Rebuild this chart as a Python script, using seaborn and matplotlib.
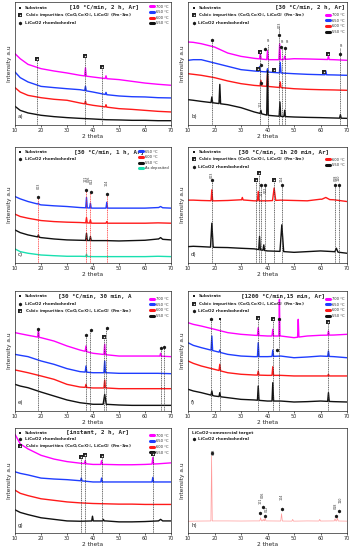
import numpy as np
import matplotlib
matplotlib.use("Agg")
import matplotlib.pyplot as plt
from matplotlib.lines import Line2D
import seaborn as sns

# shared 2-theta grid for the background of every trace
theta = [10, 12, 15, 20, 25, 30, 35, 40, 45, 50, 55, 60, 65, 70]

# a) 10 C/min, 2 h, Ar
a_700 = [58.0, 53.9, 49.3, 45.8, 43.9, 42.3, 40.4, 39.0, 37.7, 36.9, 35.5, 34.1, 33.1, 32.3]
a_700_pk = [(37.1, 46.5), (45.0, 40.0)]
a_650 = [43.1, 38.5, 35.0, 31.4, 30.4, 29.5, 28.7, 26.8, 24.7, 23.6, 23.0, 22.8, 22.2, 22.0]
a_650_pk = [(37.1, 31.5), (45.0, 26.5)]
a_600 = [30.4, 26.8, 24.1, 22.2, 20.9, 20.1, 17.9, 16.0, 14.6, 13.3, 12.7, 11.9, 11.1, 10.6]
a_600_pk = [(37.1, 19.5), (45.0, 16.5)]
a_550 = [15.2, 11.9, 9.8, 7.9, 6.8, 6.0, 5.4, 4.9, 4.3, 4.1, 3.8, 3.8, 3.5, 3.5]
a_550_pk = []
a_lines = [(18.5, 54), (37.1, 56), (43.3, 47)]
a_marks = [(18.5, 54, 'cub'), (37.1, 56, 'cub'), (43.3, 47, 'cub')]

# b) 30 C/min, 2 h, Ar
b_700 = [67.5, 67.2, 66.1, 63.4, 58.5, 55.8, 54.2, 53.1, 53.1, 53.9, 53.7, 53.4, 53.1, 52.6]
b_700_pk = [(37.3, 58.5), (40.0, 60.5), (44.6, 66.0), (46.5, 56.0), (63.0, 56.0)]
b_650 = [52.6, 53.1, 53.1, 50.4, 47.7, 45.0, 43.9, 43.1, 42.3, 41.7, 41.2, 40.9, 40.7, 40.4]
b_650_pk = [(37.0, 47.5), (40.0, 45.8), (44.8, 51.0), (62.0, 44.0)]
b_600 = [41.7, 41.2, 40.4, 38.5, 35.8, 33.6, 32.2, 31.4, 30.4, 29.5, 29.0, 28.7, 28.5, 28.2]
b_600_pk = [(37.5, 36.3), (40.0, 41.2), (44.8, 35.0)]
b_550 = [20.6, 20.1, 19.2, 17.9, 16.5, 14.1, 10.6, 7.9, 7.0, 6.5, 6.2, 6.0, 5.7, 5.4]
b_550_pk = [(19.0, 22.8), (22.0, 33.0), (37.5, 12.0), (40.0, 44.0), (44.7, 18.7), (46.5, 12.0), (67.5, 8.4)]
b_lines = [(19.0, 69), (37.3, 59), (40.0, 66), (44.5, 80), (45.3, 63), (46.6, 63), (67.5, 63)]
b_marks = [(19.0, 69.4, 'rho'), (22.0, 21.5, 'sub'), (37.3, 59.3, 'cub'), (39.2, 62.0, 'rho'),
           (44.5, 73.0, 'rho'), (45.0, 63.4, 'rho'), (46.6, 62.9, 'rho'), (63.0, 57.5, 'cub'),
           (67.5, 57.5, 'rho'), (36.5, 45.8, 'cub'), (37.6, 48.5, 'rho'), (42.5, 44.4, 'cub'),
           (61.5, 43.1, 'cub'), (37.5, 34.1, 'rho')]
b_tags = [(40.4, 66.5, 'Pt', 0), (45.7, 65.5, 'Pt', 0), (47.4, 65.5, 'Pt', 0), (67.9, 62.5, 'Pt', 0),
          (44.5, 79, '003', 90), (37.3, 15, '101', 90)]

# c) 30 C/min, 1 h, Ar
c_650 = [57.3, 55.3, 53.0, 50.1, 49.3, 48.7, 47.8, 47.3, 47.3, 47.3, 47.3, 47.3, 47.8, 47.3]
c_650_pk = [(19.0, 51.6), (37.5, 56.5), (39.0, 51.6), (45.3, 52.4), (66.0, 48.7, 0.8)]
c_600 = [42.1, 40.1, 38.6, 36.6, 35.7, 35.2, 34.9, 34.3, 34.3, 34.3, 34.3, 34.3, 34.6, 34.3]
c_600_pk = [(37.5, 39.2), (39.0, 37.2), (45.3, 35.7)]
c_550 = [28.5, 26.2, 24.2, 21.9, 20.7, 19.9, 19.6, 19.3, 19.3, 19.0, 19.3, 19.6, 20.7, 19.9]
c_550_pk = [(19.0, 24.2), (37.5, 25.6), (39.0, 22.8), (66.0, 21.9, 0.8)]
c_dep = [12.1, 9.8, 8.4, 6.9, 6.3, 5.8, 5.8, 5.5, 5.5, 5.5, 5.5, 5.5, 5.8, 5.5]
c_dep_pk = [(37.5, 7.5)]
c_lines = [(19.0, 56.5), (37.3, 63.0), (39.0, 61.0), (45.3, 59.4)]
c_marks = [(19.0, 56.5, 'rho'), (37.3, 63.0, 'rho'), (39.2, 61.0, 'rho'), (45.3, 59.4, 'rho')]
c_tags = [(19.0, 64, '003', 90), (37.3, 70, '101', 90), (38.4, 70, '006', 90),
          (39.6, 68, '012', 90), (45.3, 66, '104', 90)]

# d) 30 C/min, 1h 20 min, Ar
d_600 = [54.2, 54.2, 53.9, 53.6, 53.9, 54.5, 53.6, 53.6, 54.2, 53.9, 53.6, 55.0, 54.5, 53.0]
d_600_pk = [(19.0, 63.1), (30.5, 56.5), (36.5, 61.7), (42.5, 64.6, 0.6), (62.0, 56.5, 1.5)]
d_550 = [14.1, 14.4, 14.1, 13.5, 13.3, 12.7, 12.2, 10.4, 10.0, 9.2, 9.8, 10.4, 9.8, 8.4]
d_550_pk = [(19.0, 34.3, 0.5), (37.0, 22.8), (38.6, 15.6), (45.4, 32.9, 0.7), (66.0, 12.7, 0.6)]
d_lines = [(19.0, 71.8), (35.5, 71.8), (36.8, 77.5), (37.6, 66.9), (38.9, 67.4), (42.5, 71.8),
           (45.5, 66.9), (65.6, 67.4), (66.8, 67.4)]
d_marks = [(19.0, 71.8, 'rho'), (35.5, 71.8, 'cub'), (36.8, 77.5, 'cub'), (37.6, 66.9, 'rho'),
           (39.0, 67.4, 'rho'), (42.5, 71.8, 'cub'), (45.5, 66.9, 'rho'), (65.6, 67.4, 'rho'),
           (66.8, 67.4, 'rho')]
d_tags = [(19.0, 73.5, '003', 90), (37.6, 58, '101', 90), (39.4, 60, '012', 90),
          (45.5, 70, '104', 90), (65.6, 70.5, '018', 90), (66.8, 70.5, '110', 90)]

# e) 30 C/min, 30 min
e_700 = [65.3, 64.4, 63.1, 61.1, 58.3, 54.2, 50.8, 48.1, 46.9, 45.8, 45.8, 45.8, 45.8, 45.3]
e_700_pk = [(19.0, 68.0), (37.3, 54.2), (44.5, 55.6), (66.0, 48.1)]
e_650 = [47.2, 46.4, 45.3, 41.7, 38.9, 35.3, 32.8, 31.9, 31.9, 31.4, 31.4, 31.4, 31.4, 31.1]
e_650_pk = [(37.3, 37.5), (44.5, 41.7)]
e_600 = [34.2, 33.3, 31.9, 29.2, 26.4, 22.2, 20.0, 19.2, 19.2, 18.6, 18.6, 18.6, 18.6, 18.6]
e_600_pk = [(37.3, 22.2), (44.5, 25.8)]
e_550 = [22.2, 20.8, 19.4, 15.8, 12.5, 9.2, 6.9, 5.6, 5.6, 5.0, 4.7, 4.7, 4.7, 4.7]
e_550_pk = [(44.5, 13.9, 0.6)]
e_lines = [(19.0, 68.6), (37.3, 63.1), (39.0, 67.5), (44.3, 61.7), (45.0, 68.9), (66.0, 52.8), (67.2, 53.3)]
e_marks = [(19.0, 68.6, 'rho'), (37.3, 63.1, 'rho'), (39.2, 67.5, 'rho'), (44.3, 61.7, 'cub'),
           (45.2, 68.9, 'rho'), (66.0, 52.8, 'rho'), (67.4, 53.3, 'rho')]

# f) 1200 C/min, 15 min, Ar
f_700 = [73.6, 72.2, 70.8, 68.1, 65.3, 63.9, 63.1, 62.5, 62.5, 61.1, 62.5, 63.1, 63.3, 63.9]
f_700_pk = [(36.5, 69.4), (42.0, 68.1), (44.5, 93.0, 0.2), (51.6, 76.4, 0.25), (63.0, 66.7)]
f_650 = [56.9, 54.7, 52.8, 50.0, 47.2, 45.8, 45.3, 45.3, 45.8, 44.4, 45.0, 45.8, 45.3, 44.4]
f_650_pk = [(19.0, 62.5), (22.0, 50.8), (36.5, 56.9), (42.0, 50.8), (63.0, 50.0)]
f_600 = [41.7, 39.7, 37.5, 34.7, 31.9, 30.6, 30.0, 29.7, 29.7, 29.2, 29.2, 29.2, 29.2, 29.2]
f_600_pk = [(22.0, 38.9), (36.5, 33.3), (42.0, 36.9), (63.0, 30.6)]
f_550 = [18.1, 16.7, 15.3, 12.5, 11.1, 9.7, 9.2, 8.3, 8.3, 7.5, 7.8, 8.3, 7.8, 7.5]
f_550_pk = [(19.0, 16.7), (22.0, 15.3), (36.5, 20.8), (42.0, 23.6), (63.0, 15.3)]
f_lines = [(18.8, 76.9), (22.0, 76.9), (36.5, 77.8), (42.0, 76.9), (44.3, 76.9), (63.0, 74.2)]
f_marks = [(18.8, 76.9, 'rho'), (22.0, 76.9, 'sub'), (36.5, 77.8, 'cub'), (42.0, 76.9, 'cub'),
           (44.3, 76.9, 'rho'), (63.0, 74.2, 'cub'), (43.5, 50.5, 'rho')]

# g) instant, 2 h, Ar
g_700 = [94.0, 84.9, 80.1, 74.0, 70.4, 68.0, 66.5, 65.3, 65.3, 65.0, 65.0, 65.3, 65.9, 66.8]
g_700_pk = [(37.0, 68.9), (43.3, 68.9), (63.0, 71.9)]
g_650 = [58.3, 56.8, 55.3, 52.3, 51.4, 50.8, 49.8, 48.6, 48.6, 48.6, 48.6, 48.6, 48.6, 48.6]
g_650_pk = [(35.5, 52.3), (43.3, 52.3), (63.0, 52.9)]
g_600 = [40.8, 37.8, 35.6, 32.6, 31.1, 29.6, 28.7, 28.1, 27.8, 27.5, 27.5, 27.2, 27.2, 27.2]
g_600_pk = []
g_550 = [22.1, 19.6, 17.5, 14.5, 13.0, 11.5, 11.2, 11.5, 11.5, 10.6, 10.6, 10.9, 11.5, 11.5]
g_550_pk = [(39.8, 16.0), (44.0, 13.0), (66.0, 13.0, 0.8)]
g_lines = [(35.5, 72.8), (37.0, 74.0), (43.3, 73.4), (63.0, 74.9)]
g_marks = [(35.5, 72.8, 'cub'), (37.0, 74.0, 'cub'), (43.3, 73.4, 'cub'), (63.0, 74.9, 'cub')]

# h) commercial target
h_target = [11.2, 11.3, 11.4, 11.5, 11.5, 11.4, 11.5, 11.5, 11.4, 11.3, 11.5, 11.4, 11.5, 11.3]
h_target_pk = [(18.9, 73.4, 0.25), (37.4, 14.5), (38.4, 13.0), (39.1, 14.2), (45.3, 18.4),
               (49.5, 13.0), (59.7, 13.0), (65.5, 13.6), (66.4, 14.2)]
h_marks = [(18.9, 76.4, 'rho'), (37.3, 19.0, 'rho'), (38.3, 24.5, 'rho'), (39.2, 16.6, 'rho'),
           (45.3, 23.0, 'rho'), (65.7, 16.6, 'rho'), (66.9, 21.1, 'rho')]
h_tags = [(19.6, 74, '003', 90), (37.3, 28, '101', 90), (38.3, 33, '006', 90), (39.9, 20, '012', 90),
          (45.3, 31, '104', 90), (65.7, 23, '018', 90), (67.4, 29, '110', 90)]

titles = ['[10 °C/min, 2 h, Ar]', '[30 °C/min, 2 h, Ar]', '[30 °C/min, 1 h, Ar]',
          '[30 °C/min, 1h 20 min, Ar]', '[30 °C/min, 30 min, A', '[1200 °C/min,15 min, Ar]',
          '[instant, 2 h, Ar]', None]

COL = {'700 °C': '#ff00ff', '650 °C': '#1f3dff', '600 °C': '#ff1a1a', '550 °C': '#111111',
       'As deposited': '#19e0b0', 'target': '#ff9a9a'}

TXT_SUB = 'Substrate'
TXT_CUB = 'Cubic impurities (CoO,Co$_3$O$_4$, LiCoO$_2$ (Fm-3m)'
TXT_RHO = 'LiCoO2 rhombohedral'


def trace(base, peaks, hw=0.3):
    keep = []
    for p in peaks:
        w = p[2] if len(p) > 2 else hw
        keep.append((p[0] - w, p[0] + w))
    pts = [(x, y) for x, y in zip(theta, base) if not any(lo <= x <= hi for lo, hi in keep)]
    for p in peaks:
        w = p[2] if len(p) > 2 else hw
        b0, b1 = np.interp([p[0] - w, p[0] + w], theta, base)
        pts += [(p[0] - w, b0), (p[0], p[1]), (p[0] + w, b1)]
    pts.sort()
    return [q[0] for q in pts], [q[1] for q in pts]


def mark(ax, x, y, kind, tr=None):
    kw = dict(zorder=6, clip_on=False, linewidths=0)
    if tr is not None:
        kw['transform'] = tr
    if kind == 'sub':
        ax.scatter([x], [y], marker='s', s=4, c='k', **kw)
    elif kind == 'rho':
        ax.scatter([x], [y], marker='h', s=7, c='k', **kw)
    else:
        ax.scatter([x], [y], marker='s', s=6, c='#222222', **kw)
        kw['zorder'] = 7
        ax.scatter([x], [y], marker='*', s=3, c='w', **kw)


sns.set_theme(style="ticks")
plt.rcParams['font.family'] = ['DejaVu Sans']

fig = plt.figure(figsize=(3.52, 5.5), dpi=100)
W, H = 352.0, 550.0
cols = [(15, 156), (188, 159)]
rows = [(2, 125), (147, 263), (291, 411), (428, 533)]

panels = [
    dict(curves=[('700 °C', a_700, a_700_pk), ('650 °C', a_650, a_650_pk), ('600 °C', a_600, a_600_pk), ('550 °C', a_550, a_550_pk)],
         lines=a_lines, marks=a_marks, tags=[], keys=['sub', 'cub', 'rho'], tx=0.57, leg_y=1.0),
    dict(curves=[('700 °C', b_700, b_700_pk), ('650 °C', b_650, b_650_pk), ('600 °C', b_600, b_600_pk), ('550 °C', b_550, b_550_pk)],
         lines=b_lines, marks=b_marks, tags=b_tags, keys=['sub', 'cub', 'rho'], tx=0.77, leg_y=0.93),
    dict(curves=[('650 °C', c_650, c_650_pk), ('600 °C', c_600, c_600_pk), ('550 °C', c_550, c_550_pk), ('As deposited', c_dep, c_dep_pk)],
         lines=c_lines, marks=c_marks, tags=c_tags, keys=['sub', 'rho'], tx=0.60, leg_y=1.0, lc='#ff2020'),
    dict(curves=[('600 °C', d_600, d_600_pk), ('550 °C', d_550, d_550_pk)],
         lines=d_lines, marks=d_marks, tags=d_tags, keys=['sub', 'cub', 'rho'], tx=0.60, leg_y=0.93),
    dict(curves=[('700 °C', e_700, e_700_pk), ('650 °C', e_650, e_650_pk), ('600 °C', e_600, e_600_pk), ('550 °C', e_550, e_550_pk)],
         lines=e_lines, marks=e_marks, tags=[], keys=['sub', 'rho', 'cub'], tx=0.51, leg_y=0.97),
    dict(curves=[('700 °C', f_700, f_700_pk), ('650 °C', f_650, f_650_pk), ('600 °C', f_600, f_600_pk), ('550 °C', f_550, f_550_pk)],
         lines=f_lines, marks=f_marks, tags=[], keys=['sub', 'cub', 'rho'], tx=0.60, leg_y=0.97),
    dict(curves=[('700 °C', g_700, g_700_pk), ('650 °C', g_650, g_650_pk), ('600 °C', g_600, g_600_pk), ('550 °C', g_550, g_550_pk)],
         lines=g_lines, marks=g_marks, tags=[], keys=['sub', 'rho', 'cub'], tx=0.53, leg_y=0.97),
    dict(curves=[('target', h_target, h_target_pk)],
         lines=[], marks=h_marks, tags=h_tags, keys=['tgt', 'rho'], tx=0.5, leg_y=1.0),
]

for i, p in enumerate(panels):
    r, c = divmod(i, 2)
    top, bot = rows[r]
    left, wid = cols[c]
    ax = fig.add_axes([left / W, 1 - bot / H, wid / W, (bot - top) / H])

    for name, base, pk in p['curves']:
        xs, ys = trace(base, pk)
        lw = 0.5 if name == 'target' else 1.0
        sns.lineplot(x=xs, y=ys, ax=ax, color=COL[name], lw=lw, estimator=None,
                     sort=False, legend=False)

    for x, ytop in p['lines']:
        ax.plot([x, x], [0, ytop], ls=(0, (1.6, 1.0)), lw=0.5, color=p.get('lc', '#333333'), zorder=4)
    for x, y, k in p['marks']:
        mark(ax, x, y, k)
    for x, y, s, rot in p['tags']:
        ax.text(x, y, s, fontsize=2.4, rotation=rot, ha='center', va='bottom', color='#333333', zorder=7)

    # symbol key, top left
    ky = 0.955
    for k in p['keys']:
        if k == 'tgt':
            ax.text(0.025, ky, 'LiCoO2-commercial target', transform=ax.transAxes, fontsize=3,
                    fontweight='bold', va='center')
        else:
            mark(ax, 0.035, ky, k, tr=ax.transAxes)
            txt = {'sub': TXT_SUB, 'cub': TXT_CUB, 'rho': TXT_RHO}[k]
            ax.text(0.065, ky, txt, transform=ax.transAxes, fontsize=3, fontweight='bold', va='center')
        ky -= 0.062

    if titles[i]:
        ax.text(p['tx'], 0.955, titles[i], transform=ax.transAxes, ha='center', va='center',
                fontsize=4.2, fontweight='bold', family='DejaVu Sans Mono')

    if p['curves'][0][0] != 'target':
        hs = [Line2D([], [], color=COL[n], lw=2.2) for n, _, _ in p['curves']]
        ax.legend(hs, [n for n, _, _ in p['curves']], loc='upper right',
                  bbox_to_anchor=(1.0, p['leg_y']), fontsize=2.6, frameon=False,
                  handlelength=1.1, handletextpad=0.4, labelspacing=0.45, borderaxespad=0.3)

    ax.text(0.02, 0.05, 'abcdefgh'[i] + ')', transform=ax.transAxes, fontsize=4, va='bottom')

    ax.set_xlim(10, 70)
    ax.set_ylim(0, 100)
    ax.set_yticks([])
    ax.set_xticks([10, 20, 30, 40, 50, 60, 70])
    ax.tick_params(axis='x', labelsize=3.5, length=1.5, width=0.5, pad=0.8, direction='out')
    ax.set_xlabel('2 theta', fontsize=4.2, labelpad=0.8)
    ax.set_ylabel('Intensity a.u', fontsize=4.2, labelpad=2)
    for s in ax.spines.values():
        s.set_linewidth(0.5)
        s.set_visible(True)

fig.savefig('out.png', dpi=100, facecolor='white')
